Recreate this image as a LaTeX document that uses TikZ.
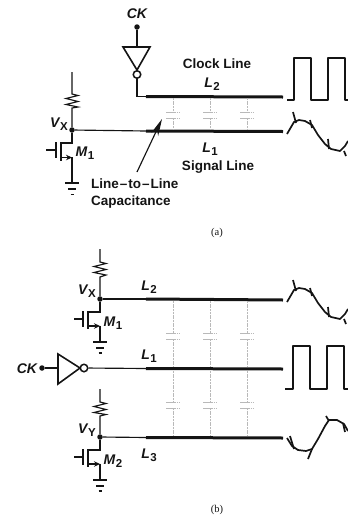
\documentclass[tikz,border=0pt]{standalone}
\usepackage{fontspec}
\setmainfont{Liberation Sans}
\newfontfamily\capfont{Liberation Serif}
\usetikzlibrary{arrows.meta}
\definecolor{inkblack}{gray}{0.08}
\tikzset{
  wire/.style={draw=inkblack, line width=1.15pt},
  devline/.style={draw=inkblack, line width=1.6pt},
  busline/.style={draw=inkblack, line width=3pt},
  wavline/.style={draw=inkblack, line width=1.7pt, line join=round},
  capline/.style={draw=gray!55, line width=0.4pt, dash pattern=on 2pt off 0.7pt},
  capplate/.style={draw=gray!55, line width=0.8pt, dash pattern=on 1.5pt off 0.6pt},
  dotnode/.style={circle, fill=inkblack, inner sep=0pt, minimum size=5.5pt},
  bubble/.style={circle, draw=inkblack, line width=1.5pt, fill=white, inner sep=0pt, minimum size=7.5pt},
  lbl/.style={inner sep=0pt, text=inkblack, font=\bfseries\fontsize{13.5}{15}\selectfont},
  symlbl/.style={inner sep=0pt, text=inkblack, font=\bfseries\itshape\fontsize{14}{15}\selectfont},
  caplbl/.style={inner sep=0pt, text=inkblack, font=\capfont\fontsize{10.5}{12}\selectfont}
}
\newcommand{\subX}[2]{#1\raisebox{-3.5pt}{\kern0.5pt\upshape\fontsize{11.5}{12}\selectfont #2}}
\begin{document}
\begin{tikzpicture}[x=1pt, y=-1pt, >=stealth]
  \useasboundingbox (0,0) rectangle (348,517);

  %%%%%%%%%%%%%%%%%%%%%%%%%%%%%%%%%%%%%%%%%%%%%%%%%
  \begin{scope}
    % Clock input and inverter
    \node[symlbl] (cka) at (137,14) {CK};
    \node[dotnode] (ckdota) at (137,27) {};
    \coordinate (invla) at (123,47);
    \coordinate (invra) at (150,47);
    \coordinate (invta) at (137,70);
    \coordinate (invca) at (137,47);
    \node[bubble] (bubba) at (137,74.5) {};
    \coordinate (l2ina) at (137,96.5);
    \draw[wire] (ckdota) -- (invca);
    \draw[devline] (invla) -- (invra) -- (invta) -- cycle;

    % Lines
    \coordinate (l2sa) at (146,96.5);
    \coordinate (l2ea) at (283,97);
    \coordinate (l1sa) at (146,131);
    \coordinate (l1ea) at (283,131.5);
    \node[dotnode] (vxa) at (72,130) {};
    \draw[wire] (bubba) -- (l2ina) -- (l2sa);
    \draw[wire] (vxa) -- (l1sa);
    \draw[busline] (l2sa) -- (l2ea);
    \draw[busline] (l1sa) -- (l1ea);

    % Capacitors
    \foreach \x in {173,210,247} {
      \draw[capline] (\x,98) -- (\x,112) (\x,118) -- (\x,130);
      \draw[capplate] (\x-7,112) -- (\x+7,112) (\x-7,118) -- (\x+7,118);
    }

    % Labels
    \node[lbl] (clka) at (217,64) {Clock Line};
    \node[symlbl] (l2a) at (212,84) {\subX{L}{2}};
    \node[symlbl] (l1a) at (210,149) {\subX{L}{1}};
    \node[lbl] (siga) at (218,167) {Signal Line};
    \node[lbl, anchor=west] (lina) at (91,184) {Line\kern1pt--\kern1pt{}to\kern1pt--\kern1pt{}Line};
    \node[lbl, anchor=west] (capa) at (91,202) {Capacitance};
    \draw[wire, -{Stealth[length=17pt, width=7.5pt]}] (137,172) -- (162,119);
    \node[symlbl] (vxla) at (59,124) {\subX{V}{X}};
    \node[symlbl] (m1a) at (85,153) {\subX{M}{1}};
    \node[caplbl] (tita) at (217,233) {(a)};

    % Clock waveform
    \draw[wavline] (287,100) -- (294,100) -- (294,58) -- (311,58) -- (311,100)
      -- (328,100) -- (328,58) -- (345,58) -- (345,100) -- (348,100);
  \end{scope}

  %%%%%%%%%%%%%%%%%%%%%%%%%%%%%%%%%%%%%%%%%%%%%%%%%
  \begin{scope}[shift={(0,168)}]
    % Signal waveform on L2 of (b)
    \draw[wavline] (287,134) -- (294,122) -- (299,120) -- (305,121) -- (312,125) -- (318,135) -- (325,144) -- (331,149) -- (340,151) -- (345,146) -- (348,141);
    \draw[wavline] (293,112) -- (296,123) (310,120) -- (312,128) (328,139) -- (329,149) (344,151) -- (346,156);
  \end{scope}

  %%%%%%%%%%%%%%%%%%%%%%%%%%%%%%%%%%%%%%%%%%%%%%%%%
  \begin{scope}
    % Signal waveform on L1 of (a)
    \draw[wavline] (287,134) -- (294,122) -- (299,120) -- (305,121) -- (312,125) -- (318,135) -- (325,144) -- (331,149) -- (340,151) -- (345,146) -- (348,141);
    \draw[wavline] (293,112) -- (296,123) (310,120) -- (312,128) (328,139) -- (329,149) (344,151) -- (346,156);

    % Load and transistor M1
    \coordinate (resta) at (72,72);
    \coordinate (resba) at (72,108);
    \draw[wire] (resta) -- ++(0,22) -- ++(6,1.5) -- ++(-12,3) -- ++(12,3) -- ++(-12,3) -- ++(12,2.5) -- (resba) -- (vxa);
    \draw[wire] (vxa) -- (72,143) -- (61,143);
    \draw[devline] (61,142) -- (61,161);
    \draw[devline] (56,142) -- (56,158);
    \draw[wire] (46,150) -- (56,150);
    \draw[wire, -{Stealth[length=6pt, width=5.5pt]}] (61,157.5) -- (72,157.5);
    \draw[wire] (72,157) -- (72,183);
    \draw[devline] (65,183) -- (79,183) (68,189) -- (76,189) (70.5,194.5) -- (73.5,194.5);
  \end{scope}

  %%%%%%%%%%%%%%%%%%%%%%%%%%%%%%%%%%%%%%%%%%%%%%%%%
  \begin{scope}
    % Lines of (b)
    \node[dotnode] (vxb) at (100,299) {};
    \node[dotnode] (vyb) at (100,437) {};
    \coordinate (l2sb) at (146,299);
    \coordinate (l2eb) at (283,300);
    \coordinate (l1sb) at (146,368.5);
    \coordinate (l1eb) at (283,369);
    \coordinate (l3sb) at (146,437.5);
    \coordinate (l3eb) at (283,438);
    \draw[wire] (vxb) -- (l2sb);
    \draw[wire] (vyb) -- (l3sb);
    \draw[busline] (l2sb) -- (l2eb);
    \draw[busline] (l1sb) -- (l1eb);
    \draw[busline] (l3sb) -- (l3eb);

    % Clock input and inverter
    \node[symlbl] (ckb) at (27,369) {CK};
    \node[dotnode] (ckdotb) at (42,368) {};
    \coordinate (invub) at (58,354);
    \coordinate (invmb) at (58,368);
    \coordinate (invdb) at (58,384);
    \coordinate (invtb) at (80,368);
    \node[bubble] (bubbb) at (84,368) {};
    \draw[wire] (ckdotb) -- (invmb);
    \draw[devline] (invub) -- (invtb) -- (invdb) -- cycle;
    \draw[wire] (bubbb) -- (l1sb);

    % Capacitors
    \foreach \x in {173,210,247} {
      \draw[capline] (\x,301) -- (\x,333) (\x,339) -- (\x,367);
      \draw[capplate] (\x-7,333) -- (\x+7,333) (\x-7,339) -- (\x+7,339);
      \draw[capline] (\x,371) -- (\x,402) (\x,408) -- (\x,436);
      \draw[capplate] (\x-7,402) -- (\x+7,402) (\x-7,408) -- (\x+7,408);
    }

    % Labels
    \node[symlbl] (vxlb) at (87,291) {\subX{V}{X}};
    \node[symlbl] (vylb) at (87,430) {\subX{V}{Y}};
    \node[symlbl] (m1b) at (113,323) {\subX{M}{1}};
    \node[symlbl] (m2b) at (113,461) {\subX{M}{2}};
    \node[symlbl] (l2b) at (149,287) {\subX{L}{2}};
    \node[symlbl] (l1b) at (149,356) {\subX{L}{1}};
    \node[symlbl] (l3b) at (149,455) {\subX{L}{3}};
    \node[caplbl] (titb) at (217,510) {(b)};

    % Clock waveform
    \draw[wavline] (285,389) -- (293,389) -- (293,346) -- (310,346) -- (310,389)
      -- (327,389) -- (327,346) -- (344,346) -- (344,389) -- (348,389);

    % Signal waveform on L3
    \draw[wavline] (287,438) -- (292,446) -- (298,450) -- (306,451) -- (312,449) -- (318,439) -- (325,426) -- (329,420) -- (337,420) -- (344,424) -- (348,431);
    \draw[wavline] (290,436) -- (294,449) (308,459) -- (312,449) (326,416) -- (329,421) (343,423) -- (345,432);
  \end{scope}

  %%%%%%%%%%%%%%%%%%%%%%%%%%%%%%%%%%%%%%%%%%%%%%%%%
  \begin{scope}
    % Load and transistor M1
    \coordinate (restb) at (100,249);
    \coordinate (resbb) at (100,277);
    \draw[wire] (restb) -- ++(0,13) -- ++(6,1.5) -- ++(-12,3) -- ++(12,3) -- ++(-12,3) -- ++(12,2.5) -- (resbb) -- (vxb);
    \draw[wire] (vxb) -- (100,312) -- (88,312);
    \draw[devline] (88,311) -- (88,329);
    \draw[devline] (83,311) -- (83,327);
    \draw[wire] (74,319) -- (83,319);
    \draw[wire, -{Stealth[length=6pt, width=5.5pt]}] (88,326) -- (100,326);
    \draw[wire] (100,325.5) -- (100,342);
    \draw[devline] (93,342) -- (107,342) (96,348) -- (104,348) (98.5,353) -- (101.5,353);
  \end{scope}

  %%%%%%%%%%%%%%%%%%%%%%%%%%%%%%%%%%%%%%%%%%%%%%%%%
  \begin{scope}
    % Load and transistor M2
    \coordinate (restc) at (100,389);
    \coordinate (resbc) at (100,416);
    \draw[wire] (restc) -- ++(0,13) -- ++(6,1.5) -- ++(-12,3) -- ++(12,3) -- ++(-12,3) -- ++(12,2) -- (resbc) -- (vyb);
    \draw[wire] (vyb) -- (100,450) -- (88,450);
    \draw[devline] (88,449) -- (88,467);
    \draw[devline] (83,449) -- (83,465);
    \draw[wire] (74,457) -- (83,457);
    \draw[wire, -{Stealth[length=6pt, width=5.5pt]}] (88,464) -- (100,464);
    \draw[wire] (100,463.5) -- (100,480);
    \draw[devline] (93,480) -- (107,480) (96,486) -- (104,486) (98.5,491) -- (101.5,491);
  \end{scope}

\end{tikzpicture}
\end{document}
